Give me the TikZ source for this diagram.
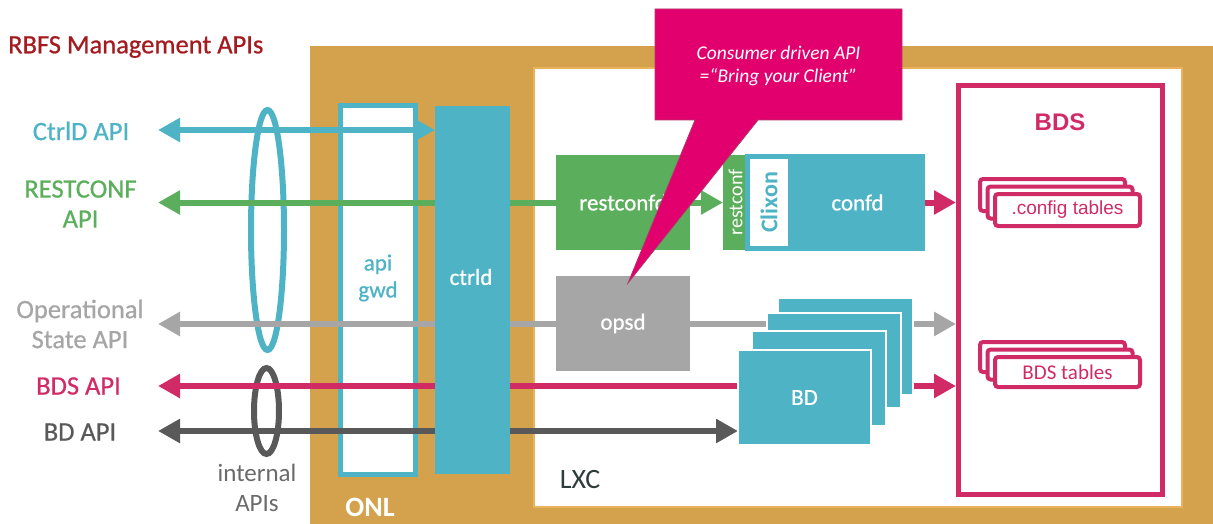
\documentclass[tikz,border=0pt]{standalone}
\usepackage{fontspec}
\setmainfont{Carlito}
\newfontfamily\medf{Carlito}[FakeBold=0.7]
\newfontfamily\arialf{Liberation Sans}
\usetikzlibrary{arrows.meta}
\pgfdeclarelayer{bg}
\pgfdeclarelayer{lines}
\pgfdeclarelayer{fg}
\pgfsetlayers{bg,lines,main,fg}
\definecolor{cteal}{HTML}{4DB3C5}
\definecolor{cgreen}{HTML}{5BAE5B}
\definecolor{cgray}{HTML}{A6A6A6}
\definecolor{cpink}{HTML}{D12B66}
\definecolor{cdgray}{HTML}{595959}
\definecolor{corange}{HTML}{D4A24C}
\definecolor{clxcb}{HTML}{E8B35C}
\definecolor{cmag}{HTML}{E2006F}
\definecolor{cmagb}{HTML}{B0386A}
\definecolor{cdred}{HTML}{A31A1F}
\definecolor{cint}{HTML}{6A6A6A}
\definecolor{clxc}{HTML}{2F3C3C}
\newcommand\fsz[2]{\fontsize{#1}{#2}\selectfont}
\begin{document}
\begin{tikzpicture}[x=1pt,y=-1pt,
  solidbox/.style={inner sep=0pt, outer sep=0pt},
  wl/.style={text=white, font=\medf\fsz{23}{27}},
  side/.style={font=\medf\fsz{26.5}{30}, align=center, inner sep=0pt},
  conn/.style={line width=6pt},
  tp/.tip={Triangle[length=22pt,width=23pt]},
  tbl/.style={draw=cpink, line width=4pt, fill=white, rounded corners=3pt, minimum width=145pt, inner sep=0pt, outer sep=2pt},
  stk/.style={fill=cteal, draw=white, line width=1.5pt, inner sep=0pt, outer sep=0pt, minimum width=134pt, minimum height=95pt}
]
\useasboundingbox (0,0) rectangle (1213,524);

% ---------- background layer ----------
\begin{pgfonlayer}{bg}
\fill[corange] (310,46) rectangle (1213,524);
\node[draw=clxcb, line width=2pt, fill=white, solidbox, minimum width=648pt, minimum height=439pt] (lxc) at (858,287.5) {};
\draw[cteal, line width=6pt] (267.5,230) ellipse [x radius=16.5pt, y radius=120pt];
\draw[cdgray, line width=6pt] (266.5,411) ellipse [x radius=12.5pt, y radius=43pt];
\node[draw=cteal, line width=5pt, fill=white, solidbox, minimum width=75pt, minimum height=369pt] (apigwd) at (378,290) {};
\end{pgfonlayer}

% ---------- main boxes ----------
\node[fill=cteal, solidbox, minimum width=75pt, minimum height=368pt] (ctrld) at (472.5,290) {};
\node[wl] (ctrldlbl) at (471,277) {ctrld};
\node[text=cteal, font=\medf\fsz{23}{27}, align=center] (apilbl) at (378,278) {api\\gwd};

\node[fill=cgreen, solidbox, minimum width=134pt, minimum height=95pt, wl] (restconfd) at (623,202.5) {restconfd};
\node[fill=cgray, solidbox, minimum width=134pt, minimum height=95pt, wl] (opsd) at (623,323.5) {opsd};

\node[fill=cgreen, solidbox, minimum width=24pt, minimum height=95pt] (rcs) at (735,202.5) {};
\node[rotate=90, text=white, font=\fsz{20}{22}, inner sep=0pt] (rcslbl) at (735.5,202.5) {restconf};

\node[fill=cteal, solidbox, minimum width=135pt, minimum height=97pt, wl] (confd) at (857.5,202.5) {confd};
\node[draw=cteal, line width=5pt, fill=white, solidbox, minimum width=43pt, minimum height=92pt] (clixon) at (769,202.5) {};
\node[rotate=90, text=cteal, font=\bfseries\fsz{24}{28}, inner sep=0pt] (clixonlbl) at (clixon.center) {Clixon};

\node[stk, minimum width=135pt, minimum height=97pt] (bd1) at (845.5,346.5) {};
\node[stk] (bd2) at (834,360.5) {};
\node[stk] (bd3) at (819,378.5) {};
\node[stk, minimum width=133pt, wl] (bd4) at (804.5,397.5) {BD};

\node[draw=cpink, line width=5pt, inner sep=0pt, outer sep=2.5pt, minimum width=204pt, minimum height=409pt] (bds) at (1060.5,290) {};
\node[text=cpink, font=\arialf\bfseries\fsz{24}{28}] (bdslbl) at (1060,122) {BDS};

\node[tbl, minimum height=32pt] (cfg1) at (1052.5,195) {};
\node[tbl, minimum height=32pt] (cfg2) at (1060,202.5) {};
\node[tbl, minimum height=32pt, text=cpink, font=\arialf\fsz{19}{22}] (cfg3) at (1067.5,210) {.config tables};
\node[tbl, minimum height=30pt] (tab1) at (1052.5,357) {};
\node[tbl, minimum height=30pt] (tab2) at (1060,364.5) {};
\node[tbl, minimum height=30pt, text=cpink, font=\fsz{21}{24}] (tab3) at (1067.5,372) {BDS tables};

% ---------- labels ----------
\node[text=cdred, font=\medf\fsz{26.5}{30}, anchor=west, inner sep=0pt] (title) at (8,47) {RBFS Management APIs};
\node[side, text=cteal] (l1) at (81,131) {CtrlD API};
\node[side, text=cgreen] (l2) at (80.5,204) {RESTCONF\\API};
\node[side, text=cgray] (l3) at (80,324) {Operational\\State API};
\node[side, text=cpink] (l4) at (78.5,386) {BDS API};
\node[side, text=cdgray] (l5) at (80,432) {BD API};
\node[text=cint, font=\fsz{25}{30}, align=center, inner sep=0pt] (intl) at (257,488) {internal\\APIs};
\node[text=white, font=\bfseries\fsz{28}{30}, inner sep=0pt] (onl) at (370,507) {ONL};
\node[text=clxc, font=\fsz{28}{30}, inner sep=0pt] (lxclbl) at (580,480) {LXC};

% ---------- connectors ----------
\coordinate (ctlL) at (158,130);
\coordinate (rsL) at (158,202.5);
\coordinate (opL) at (158,324);
\coordinate (bdsL) at (158,386);
\coordinate (bdL) at (158,431);
\begin{pgfonlayer}{lines}
\draw[conn, cteal, tp-tp] (ctlL) -- (ctlL -| ctrld.west);
\draw[conn, cgreen, tp-tp] (rsL) -- (rsL -| rcs.west);
\draw[conn, cgray, tp-tp] (opL) -- (opL -| bds.west);
\draw[conn, cpink, tp-tp] (bdsL) -- (bdsL -| bds.west);
\draw[conn, cdgray, tp-tp] (bdL) -- (bdL -| bd4.west);
\draw[conn, cpink, -tp] (confd.east) -- (confd.east -| bds.west);
\end{pgfonlayer}

% ---------- callout ----------
\begin{pgfonlayer}{fg}
\filldraw[fill=cmag, draw=cmagb, line width=0.8pt] (655,9) -- (902,9) -- (902,120) -- (758,120) -- (628,283) -- (695,120) -- (655,120) -- cycle;
\node[text=white, font=\itshape\fsz{19.5}{23}, align=center] (callout) at (778.5,66) {Consumer driven API\\ =“Bring your Client”};
\end{pgfonlayer}
\end{tikzpicture}
\end{document}
